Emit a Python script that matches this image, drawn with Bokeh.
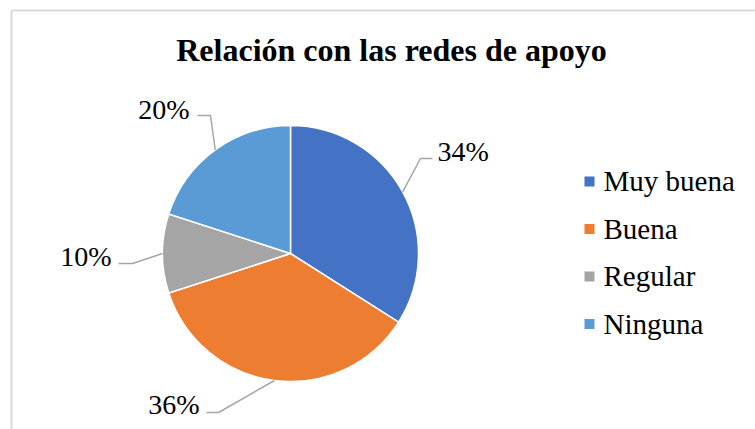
import math
from bokeh.plotting import figure
from bokeh.models import Range1d, ColumnDataSource
from bokeh.core.properties import value
from bokeh.embed import file_html
from bokeh.resources import INLINE

# ---- data ----
categories = ["Muy buena", "Buena", "Regular", "Ninguna"]
percentages = [34, 36, 10, 20]
colors = ["#4472C4", "#ED7D31", "#A5A5A5", "#5B9BD5"]
title_text = "Relación con las redes de apoyo"

# ---- layout (page pixel coordinates) ----
W, H = 755, 429
CX, CY, R = 290, 253, 128
# text anchors are visual baselines; SHIFT compensates the renderer's baseline offset
SHIFT = 0.32
label_anchor = [(437, 160, "left"), (199, 413, "right"), (111, 265, "right"), (189, 118, "right")]
leader_elbow = [(420, 158), (218, 412), (132, 263), (210, 115)]
leader_end = [(432, 158), (206, 412), (118, 263), (197, 115)]
legend_x, legend_baseline0, legend_step = 589, 190, 47.5
FONT = "Liberation Serif"
LABEL_FS, LEGEND_FS, TITLE_FS = 28, 29, 32


def Y(py):
    return H - py


p = figure(width=W, height=H, x_range=Range1d(0, W), y_range=Range1d(0, H),
           output_backend="svg", toolbar_location=None, min_border=0)
p.axis.visible = False
p.xgrid.visible = False
p.ygrid.visible = False
p.outline_line_color = None
p.background_fill_color = "white"
p.border_fill_color = "white"

# chart border (extends past window on right/bottom)
p.quad(left=[11], right=[900], top=[Y(10)], bottom=[-100], fill_color=None,
       line_color="#D9D9D9", line_width=2)

# wedges
total = float(sum(percentages))
starts, ends, mids = [], [], []
cum = 0.0
for v in percentages:
    f0 = cum / total
    cum += v
    f1 = cum / total
    starts.append(math.pi / 2 - 2 * math.pi * f0)
    ends.append(math.pi / 2 - 2 * math.pi * f1)
    mids.append((f0 + f1) / 2)

src = ColumnDataSource(dict(start=starts, end=ends, color=colors, cat=categories))
p.wedge(x=CX, y=Y(CY), radius=R, start_angle="start", end_angle="end",
        direction="clock", fill_color="color", line_color="white", line_width=1.5,
        source=src)

# leader lines
xs, ys = [], []
for i, m in enumerate(mids):
    ex = CX + R * math.sin(2 * math.pi * m)
    ey = CY - R * math.cos(2 * math.pi * m)
    xs.append([ex, leader_elbow[i][0], leader_end[i][0]])
    ys.append([Y(ey), Y(leader_elbow[i][1]), Y(leader_end[i][1])])
p.multi_line(xs=xs, ys=ys, line_color="#A6A6A6", line_width=1.5)

# data labels
for align in ("left", "right"):
    lx, ly, lt = [], [], []
    for i, v in enumerate(percentages):
        if label_anchor[i][2] == align:
            lx.append(label_anchor[i][0])
            ly.append(Y(label_anchor[i][1] - SHIFT * LABEL_FS))
            lt.append(f"{v}%")
    p.text(x=lx, y=ly, text=lt, text_align=align, text_baseline="alphabetic",
           text_font=value(FONT), text_font_size=f"{LABEL_FS}px", text_color="black")

# legend
leg_base = [legend_baseline0 + i * legend_step for i in range(len(categories))]
p.rect(x=[legend_x] * len(categories), y=[Y(b - 9) for b in leg_base], width=10, height=10,
       fill_color=colors, line_color=None)
p.text(x=[legend_x + 14] * len(categories), y=[Y(b - SHIFT * LEGEND_FS) for b in leg_base],
       text=categories, text_align="left", text_baseline="alphabetic",
       text_font=value(FONT), text_font_size=f"{LEGEND_FS}px", text_color="black")

# title
p.text(x=[391], y=[Y(60 - SHIFT * TITLE_FS)], text=[title_text], text_align="center",
       text_baseline="alphabetic", text_font=value(FONT), text_font_size=f"{TITLE_FS}px",
       text_font_style="bold", text_color="black")

open("out.html", "w").write(file_html(p, INLINE))
